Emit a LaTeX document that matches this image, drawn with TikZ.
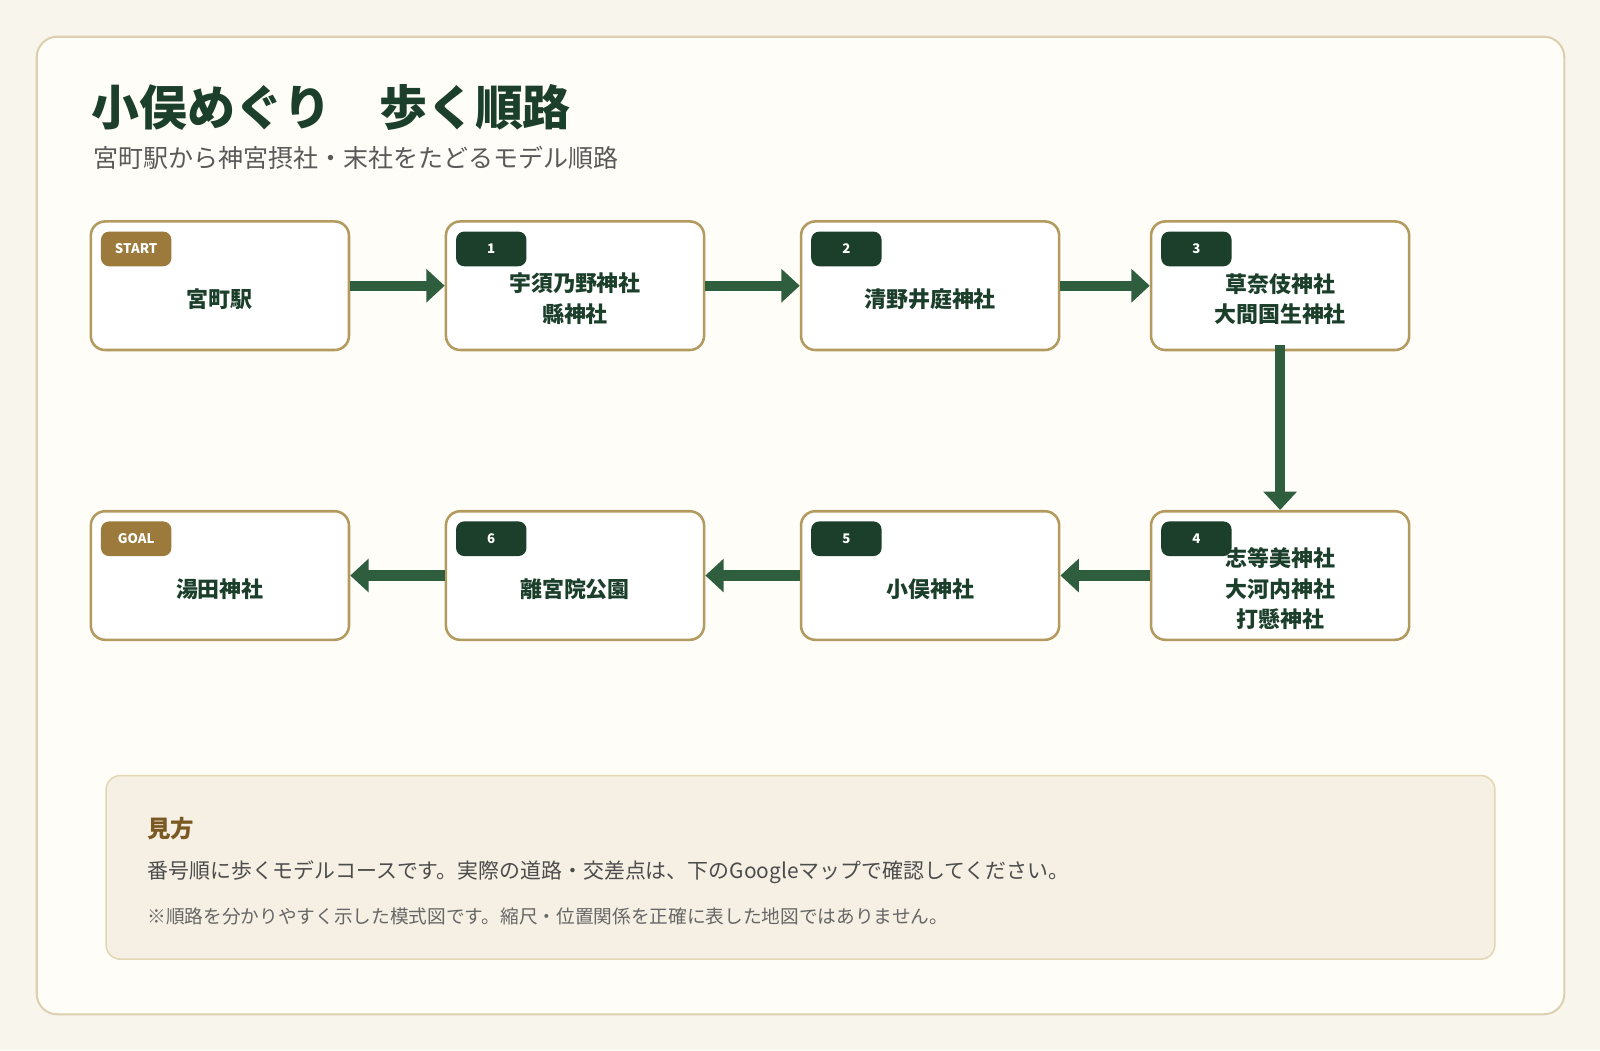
\documentclass[tikz,border=0pt]{standalone}
\usepackage{fontspec}
\setmainfont{Noto Sans CJK JP}
\usetikzlibrary{arrows.meta,positioning}
\definecolor{pagebg}{HTML}{F8F5EC}
\definecolor{cardbg}{HTML}{FFFDF7}
\definecolor{cardline}{HTML}{DDD0B0}
\definecolor{deepgreen}{HTML}{1B3F2A}
\definecolor{arrowgreen}{HTML}{2F5E3F}
\definecolor{boxline}{HTML}{B39A5E}
\definecolor{gold}{HTML}{9C7A3C}
\definecolor{notebg}{HTML}{F6F0E4}
\definecolor{noteline}{HTML}{E3D6B5}
\definecolor{brown}{HTML}{7A5A22}
\tikzset{
  stop/.style={draw=boxline, line width=2.5pt, fill=white, rounded corners=14pt,
    minimum width=253pt, minimum height=126pt, inner sep=0pt},
  stopname/.style={text=deepgreen, font=\fontsize{21.5}{30}\selectfont\bfseries, align=center},
  badge/.style={fill=#1, rounded corners=8pt, minimum width=69pt, minimum height=34pt,
    inner sep=0pt, text=white, font=\fontsize{13}{15}\selectfont\bfseries, anchor=north west},
  badge/.default=deepgreen,
  walk/.style={arrowgreen, line width=10pt, -{Triangle[length=18pt,width=32pt]}}
}
\begin{document}
\begin{tikzpicture}[x=1pt,y=-1pt]
  \fill[pagebg] (0,0) rectangle (1568,1029);
  \useasboundingbox (0,0) rectangle (1568,1029);
  \draw[cardline, line width=2pt, fill=cardbg, rounded corners=20pt] (36,36) rectangle (1533,994);

  \node[anchor=west, text=deepgreen, font=\fontsize{47}{50}\selectfont\bfseries] (title) at (86,105) {小俣めぐり\quad 歩く順路};
  \node[anchor=west, text=black!65, font=\fontsize{24.5}{28}\selectfont] (subtitle) at (88,155) {宮町駅から神宮摂社・末社をたどるモデル順路};

  % top row
  \node[stop] (s0) at (215.5,280) {};
  \node[stop] (s1) at (563.5,280) {};
  \node[stop] (s2) at (911.5,280) {};
  \node[stop] (s3) at (1254.5,280) {};
  % bottom row
  \node[stop] (s4) at (1254.5,564) {};
  \node[stop] (s5) at (911.5,564) {};
  \node[stop] (s6) at (563.5,564) {};
  \node[stop] (s7) at (215.5,564) {};

  \node[badge=gold] (b0) at ([shift={(11,11)}]s0.north west) {START};
  \node[badge] (b1) at ([shift={(11,11)}]s1.north west) {1};
  \node[badge] (b2) at ([shift={(11,11)}]s2.north west) {2};
  \node[badge] (b3) at ([shift={(11,11)}]s3.north west) {3};
  \node[badge] (b4) at ([shift={(11,11)}]s4.north west) {4};
  \node[badge] (b5) at ([shift={(11,11)}]s5.north west) {5};
  \node[badge] (b6) at ([shift={(11,11)}]s6.north west) {6};
  \node[badge=gold] (b7) at ([shift={(11,11)}]s7.north west) {GOAL};

  \node[stopname] (n0) at (215.5,293) {宮町駅};
  \node[stopname] (n1) at (563.5,293) {宇須乃野神社\\縣神社};
  \node[stopname] (n2) at (911.5,293) {清野井庭神社};
  \node[stopname] (n3) at (1254.5,293) {草奈伎神社\\大間国生神社};
  \node[stopname] (n4) at (1254.5,577) {志等美神社\\大河内神社\\打懸神社};
  \node[stopname] (n5) at (911.5,577) {小俣神社};
  \node[stopname] (n6) at (563.5,577) {離宮院公園};
  \node[stopname] (n7) at (215.5,577) {湯田神社};

  \draw[walk] (s0.east) -- (s1.west);
  \draw[walk] (s1.east) -- (s2.west);
  \draw[walk] (s2.east) -- (s3.west);
  \draw[walk] ([yshift=6pt]s3.south) -- (s4.north);
  \draw[walk] (s4.west) -- (s5.east);
  \draw[walk] (s5.west) -- (s6.east);
  \draw[walk] (s6.west) -- (s7.east);

  % note
  \draw[noteline, line width=1.5pt, fill=notebg, rounded corners=14pt] (104,760) rectangle (1465,940);
  \node[anchor=west, text=brown, font=\fontsize{23}{26}\selectfont\bfseries] (notehead) at (141,812) {見方};
  \node[anchor=west, text=black!70, font=\fontsize{20.5}{24}\selectfont] (note1) at (141,855) {番号順に歩くモデルコースです。実際の道路・交差点は、下のGoogleマップで確認してください。};
  \node[anchor=west, text=black!60, font=\fontsize{18.3}{22}\selectfont] (note2) at (141,898) {※順路を分かりやすく示した模式図です。縮尺・位置関係を正確に表した地図ではありません。};
\end{tikzpicture}
\end{document}
